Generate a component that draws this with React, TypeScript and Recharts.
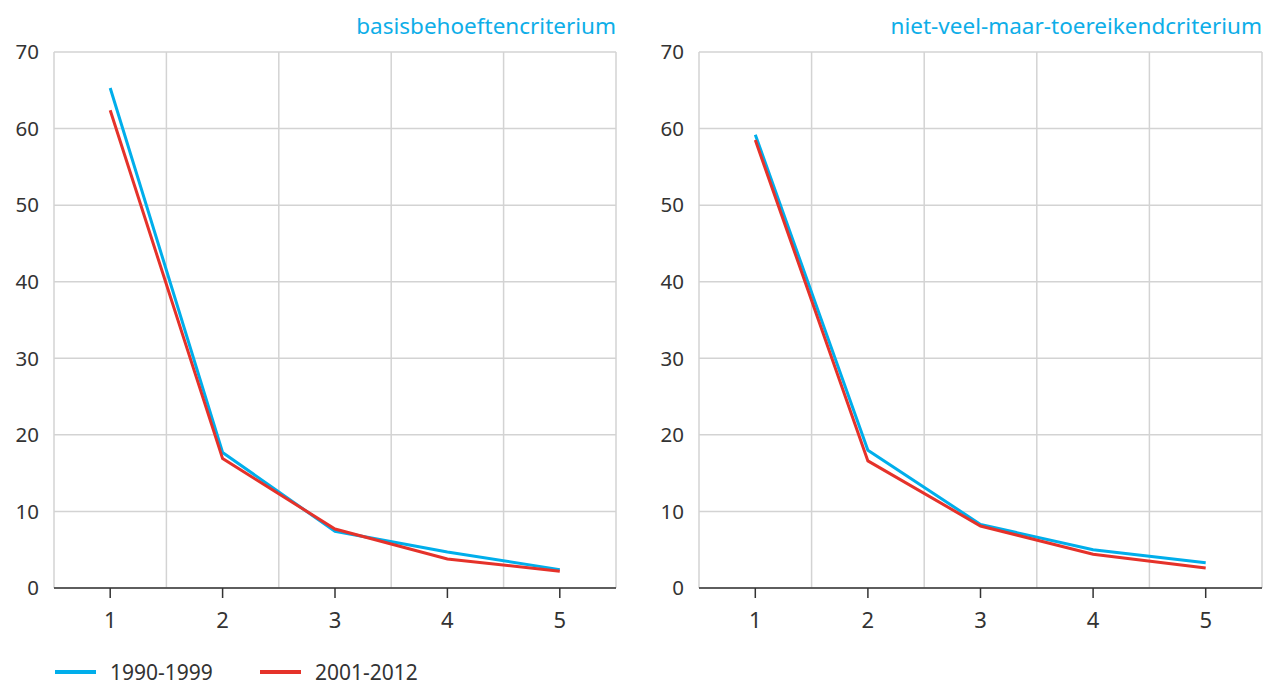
import React from "react";
import { LineChart, Line, XAxis, YAxis, CartesianGrid } from "recharts";

const categories = [1, 2, 3, 4, 5];
const seriesNames = ["1990-1999", "2001-2012"];
const basis1990 = [65.3, 17.7, 7.4, 4.7, 2.4];
const basis2001 = [62.4, 16.9, 7.7, 3.8, 2.2];
const nvmt1990 = [59.2, 18.0, 8.3, 5.0, 3.3];
const nvmt2001 = [58.5, 16.6, 8.1, 4.4, 2.6];
const yTicks = [0, 10, 20, 30, 40, 50, 60, 70];
const titles = ["basisbehoeftencriterium", "niet-veel-maar-toereikendcriterium"];

const BLUE = "#00aeeb";
const RED = "#e5322a";
const FONT = "'Noto Sans', 'Open Sans', sans-serif";

const build = (a: number[], b: number[]) =>
  categories.map((c, i) => ({ cat: c, s1: a[i], s2: b[i] }));

const boundaries = [0.5, 1.5, 2.5, 3.5, 4.5, 5.5];

function Panel({
  data,
  title,
  left,
  marginLeft,
  yWidth,
  marginRight,
}: {
  data: any[];
  title: string;
  left: number;
  marginLeft: number;
  yWidth: number;
  marginRight: number;
}) {
  const width = 632;
  const plotRight = width - marginRight;
  return (
    <div style={{ position: "absolute", left, top: 0, width, height: 687 }}>
      <div
        style={{
          position: "absolute",
          right: width - plotRight,
          top: 11,
          color: "#0eaee8",
          fontFamily: FONT,
          fontSize: 22.5,
          lineHeight: "30px",
          whiteSpace: "nowrap",
        }}
      >
        {title}
      </div>
      <LineChart
        width={width}
        height={687}
        data={data}
        margin={{ top: 52, right: marginRight, bottom: 59, left: marginLeft }}
      >
        <CartesianGrid
          stroke="#d3d3d3"
          strokeWidth={1.5}
          verticalCoordinatesGenerator={(props: any) => {
            const xa = props.xAxis;
            if (xa && typeof xa.scale === "function") {
              return boundaries.map((v) => xa.scale(v));
            }
            const o = props.offset;
            return boundaries.map((_, i) => o.left + (o.width * i) / 5);
          }}
        />
        <XAxis
          dataKey="cat"
          type="number"
          domain={[0.5, 5.5]}
          ticks={categories}
          interval={0}
          stroke="#333"
          strokeWidth={1.5}
          tickSize={10}
          tickMargin={14}
          height={40}
          tick={{ fill: "#333", fontSize: 22, fontFamily: FONT }}
        />
        <YAxis
          domain={[0, 70]}
          ticks={yTicks}
          width={yWidth}
          axisLine={false}
          tickLine={false}
          tickSize={8}
          tickMargin={7}
          interval={0}
          tick={{ fill: "#333", fontSize: 20.5, fontFamily: FONT }}
        />
        <Line
          dataKey="s1"
          name={seriesNames[0]}
          stroke={BLUE}
          strokeWidth={3}
          dot={false}
          isAnimationActive={false}
        />
        <Line
          dataKey="s2"
          name={seriesNames[1]}
          stroke={RED}
          strokeWidth={3}
          dot={false}
          isAnimationActive={false}
        />
      </LineChart>
    </div>
  );
}

export default function App() {
  const legendItems = [
    { name: seriesNames[0], color: BLUE, x: 55 },
    { name: seriesNames[1], color: RED, x: 260 },
  ];
  return (
    <div
      style={{
        position: "absolute",
        left: 0,
        top: 0,
        width: 1264,
        height: 687,
        background: "#fff",
        overflow: "hidden",
      }}
    >
      <Panel
        data={build(basis1990, basis2001)}
        title={titles[0]}
        left={0}
        marginLeft={0}
        yWidth={54}
        marginRight={16}
      />
      <Panel
        data={build(nvmt1990, nvmt2001)}
        title={titles[1]}
        left={632}
        marginLeft={0}
        yWidth={67}
        marginRight={2}
      />
      {legendItems.map((it) => (
        <div
          key={it.name}
          style={{
            position: "absolute",
            left: it.x,
            top: 660,
            height: 24,
            lineHeight: "24px",
            display: "flex",
            alignItems: "center",
            fontFamily: FONT,
            fontSize: 21,
            color: "#333",
            whiteSpace: "nowrap",
          }}
        >
          <span
            style={{
              display: "inline-block",
              width: 41,
              height: 4,
              background: it.color,
              marginRight: 14,
            }}
          />
          <span style={{ lineHeight: "24px" }}>{it.name}</span>
        </div>
      ))}
    </div>
  );
}
